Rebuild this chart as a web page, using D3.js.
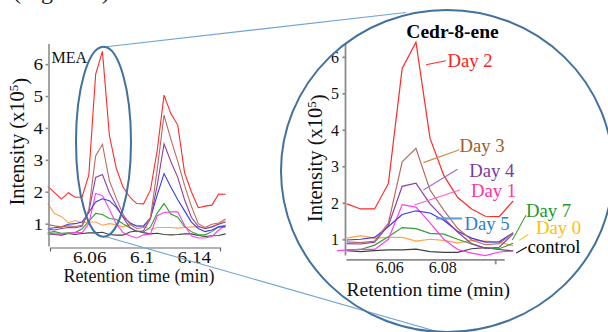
<!DOCTYPE html>
<html><head><meta charset="utf-8">
<script src="https://cdn.jsdelivr.net/npm/d3@7"></script>
<style>body{margin:0;background:#fff;overflow:hidden} svg{display:block}</style>
</head><body>
<svg id="c" width="608" height="332"></svg>
<script>
// ---------- DATA ----------
const times = [6.0283,6.0335,6.0388,6.0440,6.0492,6.0545,6.0597,6.0649,6.0701,6.0754,6.0806,6.0858,6.0911,6.0963,6.1015,6.1068,6.1120,6.1172,6.1224,6.1277,6.1329,6.1381,6.1434,6.1486,6.1538,6.1590,6.1643];
const seriesNames = ["Day 2","Day 3","Day 4","Day 1","Day 5","Day 7","Day 0","control"];
const day2 = [2.17,1.97,1.77,1.97,1.83,1.83,2.53,5.68,6.40,3.77,2.75,2.15,1.83,1.63,1.62,2.05,3.30,5.03,4.45,4.09,2.60,2.00,1.50,1.55,1.58,1.93,1.92];
const day3 = [0.97,0.93,0.90,0.93,0.91,0.95,1.44,3.12,3.49,2.35,1.80,1.30,0.98,0.85,0.88,1.18,2.70,4.40,3.65,2.95,2.20,1.55,1.00,0.88,0.98,1.02,1.15];
const day4 = [0.82,0.80,0.85,0.88,0.87,0.92,1.38,2.45,2.54,1.97,1.58,1.20,0.88,0.75,0.78,1.15,2.20,3.50,2.95,2.45,1.75,1.20,0.92,0.85,0.90,0.98,1.05];
const day1 = [0.70,0.68,0.68,0.70,0.72,0.72,1.00,1.95,1.88,1.45,1.00,0.72,0.62,0.55,0.65,0.68,1.25,1.35,1.37,1.37,0.95,0.62,0.55,0.55,0.60,0.80,0.95];
const day5 = [0.85,0.87,0.90,0.98,1.00,1.05,1.35,1.68,1.78,1.72,1.52,1.22,1.03,0.92,0.93,1.18,1.90,2.57,2.15,1.75,1.40,1.05,0.85,0.75,0.80,0.90,0.90];
const day7 = [0.72,0.75,0.70,0.71,0.72,0.84,1.07,1.32,1.29,1.16,1.14,1.00,0.87,0.76,0.74,0.89,1.33,1.63,1.30,1.20,0.90,0.75,0.65,0.65,0.75,0.90,0.95];
const day0 = [1.63,1.32,1.22,1.03,1.10,1.03,1.05,1.05,0.95,1.00,0.97,0.90,0.97,0.95,0.92,0.82,0.88,0.88,0.88,0.86,0.88,0.90,0.90,0.85,0.90,1.00,1.10];
const control = [0.68,0.66,0.64,0.69,0.66,0.69,0.71,0.71,0.73,0.66,0.64,0.64,0.74,0.77,0.72,0.68,0.70,0.66,0.65,0.66,0.68,0.68,0.63,0.60,0.62,0.63,0.68];
const seriesValues = [day2,day3,day4,day1,day5,day7,day0,control];
// drawing order (back to front)
const drawOrder = [6,7,5,3,4,2,1,0];

const yTicks = [1,2,3,4,5,6];
const xTicksMain = [6.06,6.10,6.14];
const xTickLabelsMain = ["6.06","6.1","6.14"];
const xTicksZoom = [6.06,6.08,6.10];
const xTickLabelsZoom = ["6.06","6.08",""];
const zoomFirst = [3,3,3,2,3,3,3,3];   // first sample shown in the enlarged view
const zoomLast = 15;

// label annotations for the enlarged view (data units)
const labelT  = [6.0820,6.0865,6.0902,6.0909,6.0884,6.1116,6.1154,6.1122];
const labelV  = [5.73,3.40,2.71,2.17,1.25,1.62,1.14,0.63];
const leadT0  = [6.0739,6.0729,6.0729,6.0695,6.0777,6.1065,6.1091,6.1079];
const leadV0  = [5.78,3.10,2.35,1.94,1.57,0.98,0.97,0.62];
const leadT1  = [6.0814,6.0865,6.0858,6.0865,6.0875,6.1116,6.1125,6.1119];
const leadV1  = [5.89,3.45,2.92,2.35,1.57,1.66,1.13,0.79];

// ---------- STYLE ----------
const lineColors   = ["#ff2a2a","#b96b62","#8e3fa6","#ff3cf0","#3838f0","#32a032","#ffa347","#404040"];
const labelColors  = ["#ff2020","#a35a2a","#7a3aa8","#ff35a0","#2f7cd0","#22992a","#ffc000","#000000"];
const leaderColors = ["#ff2a2a","#cf8a45","#9d6cc8","#ff5fb8","#5b9bd5","#3aa33a","#ffc000","#000000"];
const serif = "'Liberation Serif','Times New Roman',serif";
const axisGray = "#8c8c8c";

const svg = d3.select("#c");

// cut-off caption text at very top
svg.append("text").attr("x",13).attr("y",-1).attr("font-family",serif)
  .attr("font-size",24).attr("fill","#222").text("(Figure 3).");

// ---------- LEFT PANEL ----------
const xL = d3.scaleLinear().domain([6.03,6.16]).range([50,220]);
const yL = d3.scaleLinear().domain([0.3,6.65]).range([246,43.4]);
const gL = svg.append("g");

const lineL = d3.line().x((d,i)=>xL(times[i])).y(d=>yL(d));
drawOrder.forEach(k=>{
  gL.append("path").attr("d",lineL(seriesValues[k])).attr("fill","none")
    .attr("stroke",lineColors[k]).attr("stroke-width",1.1);
});

const axYL = gL.append("g").attr("transform","translate(48.5,0)")
  .call(d3.axisLeft(yL).tickValues(yTicks).tickSize(3).tickSizeOuter(0).tickFormat(d3.format("d")));
const axXL = gL.append("g").attr("transform","translate(0,247.5)")
  .call(d3.axisBottom(xL).tickValues(xTicksMain).tickSizeInner(0).tickSizeOuter(4)
    .tickFormat((d,i)=>xTickLabelsMain[i]));
[axYL,axXL].forEach(a=>{
  a.selectAll("path,line").attr("stroke",axisGray).attr("stroke-width",1.6);
  a.selectAll("text").attr("font-family",serif).attr("font-size",16).attr("fill","#111");
});
axXL.select("path").attr("stroke","#666").attr("stroke-width",1.2);
axYL.selectAll("text").attr("x",-5.5).attr("dy","0.35em");
axXL.selectAll("text").attr("y",15.3).attr("dy",0);
[axYL,axXL].forEach(a=>a.selectAll("text").each(function(){
  const w=this.getComputedTextLength();
  this.setAttribute("textLength",w*1.2); this.setAttribute("lengthAdjust","spacingAndGlyphs");
}));

gL.append("text").attr("x",51.5).attr("y",63.3).attr("font-family",serif).attr("font-size",16)
  .attr("fill","#111").text("MEA");
gL.append("text").attr("x",139).attr("y",281.5).attr("text-anchor","middle")
  .attr("font-family",serif).attr("font-size",18).attr("fill","#111").text("Retention time (min)");
const ylabL = gL.append("text").attr("transform","translate(23.5,141.7) rotate(-90)")
  .attr("text-anchor","middle").attr("font-family",serif).attr("font-size",20.5).attr("fill","#111");
ylabL.append("tspan").text("Intensity (x10");
ylabL.append("tspan").attr("dy","-0.45em").attr("font-size",13).text("5");
ylabL.append("tspan").attr("dy","0.45em").text(")");

// ---------- RIGHT (ENLARGED) PANEL ----------
const xR = d3.scaleLinear().domain([6.0437,6.1034]).range([346,504.2]);
const yR = d3.scaleLinear().domain([0.5,6.4]).range([257.5,42.2]);
const gR = svg.append("g");
svg.append("clipPath").attr("id","clipR").append("rect").attr("x",337).attr("y",0).attr("width",200).attr("height",332);

const lineR = d3.line().x(d=>xR(d.t)).y(d=>yR(d.v));
const gLines = gR.append("g").attr("clip-path","url(#clipR)");
drawOrder.forEach(k=>{
  const pts = [];
  for(let i=zoomFirst[k]; i<=zoomLast; i++) pts.push({t:times[i], v:seriesValues[k][i]});
  gLines.append("path").attr("d",lineR(pts)).attr("fill","none")
    .attr("stroke",lineColors[k]).attr("stroke-width",1.2);
});

const axYR = gR.append("g").attr("transform","translate(345.5,0)")
  .call(d3.axisLeft(yR).tickValues(yTicks).tickSize(3).tickSizeOuter(0).tickFormat(d3.format("d")));
axYR.select("path").attr("d","M0,44V255.5");
const axXR = gR.append("g").attr("transform","translate(0,259.3)")
  .call(d3.axisBottom(xR).tickValues(xTicksZoom).tickSizeOuter(0)
    .tickSizeInner(0).tickFormat((d,i)=>xTickLabelsZoom[i]));
axXR.selectAll(".tick line").attr("y2",(d,i)=>xTickLabelsZoom[i]===""?5:0);
[axYR,axXR].forEach(a=>{
  a.selectAll("path,line").attr("stroke",axisGray).attr("stroke-width",1.8);
  a.selectAll("text").attr("font-family",serif).attr("font-size",16).attr("fill","#111");
});
axYR.selectAll("text").attr("x",-6.5).attr("dy","0.35em");
axXR.selectAll("text").attr("y",14.2).attr("dy",0);

gR.append("text").attr("x",452.5).attr("y",38.3).attr("text-anchor","middle")
  .attr("font-family",serif).attr("font-size",19.5).attr("font-weight","bold").attr("fill","#000").text("Cedr-8-ene");
gR.append("text").attr("x",428.3).attr("y",296).attr("text-anchor","middle")
  .attr("font-family",serif).attr("font-size",19.5).attr("fill","#111").text("Retention time (min)");
const ylabR = gR.append("text").attr("transform","translate(322,158.3) rotate(-90)")
  .attr("text-anchor","middle").attr("font-family",serif).attr("font-size",20.5).attr("fill","#111");
ylabR.append("tspan").text("Intensity (x10");
ylabR.append("tspan").attr("dy","-0.45em").attr("font-size",13).text("5");
ylabR.append("tspan").attr("dy","0.45em").text(")");

// leaders and labels
seriesNames.forEach((name,k)=>{
  gR.append("line").attr("x1",xR(leadT0[k])).attr("y1",yR(leadV0[k]))
    .attr("x2",xR(leadT1[k])).attr("y2",yR(leadV1[k]))
    .attr("stroke",leaderColors[k]).attr("stroke-width",k===4?2:1.1);
  gR.append("text").attr("x",xR(labelT[k])).attr("y",yR(labelV[k]))
    .attr("font-family",serif).attr("font-size",18.7).attr("fill",labelColors[k]).text(name);
});

// ---------- ZOOM DECORATION ----------
const deco = svg.append("g").attr("fill","none");
deco.append("line").attr("x1",104).attr("y1",47).attr("x2",406).attr("y2",12.5)
  .attr("stroke","#6fa3d8").attr("stroke-width",1.1);
deco.append("line").attr("x1",105).attr("y1",236.5).attr("x2",442).attr("y2",333)
  .attr("stroke","#6fa3d8").attr("stroke-width",1.1);
deco.append("ellipse").attr("cx",103.5).attr("cy",141.7).attr("rx",27.5).attr("ry",95)
  .attr("stroke","#41719c").attr("stroke-width",2);
deco.append("ellipse").attr("cx",447).attr("cy",171).attr("rx",166).attr("ry",161)
  .attr("stroke","#41719c").attr("stroke-width",2);
</script>
</body></html>
